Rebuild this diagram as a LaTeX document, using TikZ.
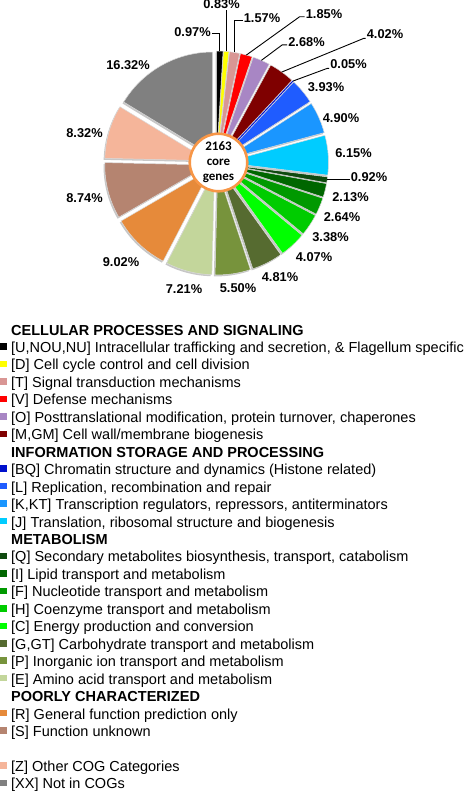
\documentclass[tikz,border=0pt]{standalone}
\usepackage{fontspec}
\setmainfont{Liberation Sans}
\newfontfamily\calib{Carlito}
\usetikzlibrary{calc}
\definecolor{cU}{HTML}{000000}
\definecolor{cD}{HTML}{FFFF00}
\definecolor{cT}{HTML}{D99694}
\definecolor{cV}{HTML}{FF0000}
\definecolor{cO}{HTML}{A886C4}
\definecolor{cM}{HTML}{7F0000}
\definecolor{cBQ}{HTML}{0010CC}
\definecolor{cL}{HTML}{1F5CFF}
\definecolor{cK}{HTML}{1A96FF}
\definecolor{cJ}{HTML}{00CCFF}
\definecolor{cQ}{HTML}{0F4A0F}
\definecolor{cI}{HTML}{006600}
\definecolor{cF}{HTML}{009900}
\definecolor{cH}{HTML}{00CC00}
\definecolor{cC}{HTML}{00FF00}
\definecolor{cG}{HTML}{566B30}
\definecolor{cP}{HTML}{77933C}
\definecolor{cE}{HTML}{C3D69B}
\definecolor{cR}{HTML}{E68A3A}
\definecolor{cS}{HTML}{B58470}
\definecolor{cZ}{HTML}{F5B59A}
\definecolor{cXX}{HTML}{808080}
\definecolor{cRing}{HTML}{F79646}
\tikzset{
  pct/.style={font=\fontsize{12.8bp}{14bp}\selectfont\bfseries, inner sep=1bp},
  leader/.style={draw=black, line width=0.9bp},
  legtxt/.style={anchor=base west, inner sep=0pt, font=\fontsize{14.5bp}{17bp}\selectfont},
  leghd/.style={legtxt, font=\fontsize{14.5bp}{17bp}\selectfont\bfseries},
  legsq/.style={minimum width=7bp, minimum height=6.5bp, inner sep=0pt, draw=none},
  slicebd/.style={draw=white!72!gray, line width=0.5bp}
}
\newcommand\legitem[4]{%
  \node[legsq, fill=#2] (s#4) at (3.5, {335+17.46*#1-6}) {};
  \node[legtxt] (t#4) at (11, {335+17.46*#1}) {#3};
}
\newcommand\leghead[3]{%
  \node[leghd] (#3) at (11, {335+17.46*#1}) {#2};
}
\begin{document}
\begin{tikzpicture}[x=1bp,y=-1bp]
\useasboundingbox (0,0) rectangle (473,792);
% pie
\begin{scope}[shift={(216.5,163)}, yscale=-1]
  \foreach \a/\b in {90/86.508,86.508/83.52,83.52/77.868,77.868/71.208,71.208/61.56,61.56/47.088,46.908/32.76,32.76/15.12,15.12/-7.02,-7.02/-10.332,-10.332/-18.0,-18.0/-27.504,-27.504/-39.672,-39.672/-54.324,-54.324/-71.64,-71.64/-91.44,-91.44/-117.396,-117.396/-149.868,-149.868/-181.332,-181.332/-211.284,-211.284/-270}{
    \pgfmathsetmacro\m{(\a+\b)/2}
    \fill[black!22] ($(\m:8)+(-1.2,-1.5)$) -- ++(\a:104) arc[start angle=\a, end angle=\b, radius=104] -- cycle;
  }
  \foreach \a/\b/\c in {90/86.508/cU,86.508/83.52/cD,83.52/77.868/cT,77.868/71.208/cV,71.208/61.56/cO,61.56/47.088/cM,46.908/32.76/cL,32.76/15.12/cK,15.12/-7.02/cJ,-7.02/-10.332/cQ,-10.332/-18.0/cI,-18.0/-27.504/cF,-27.504/-39.672/cH,-39.672/-54.324/cC,-54.324/-71.64/cG,-71.64/-91.44/cP,-91.44/-117.396/cE,-117.396/-149.868/cR,-149.868/-181.332/cS,-181.332/-211.284/cZ,-211.284/-270/cXX}{
    \pgfmathsetmacro\m{(\a+\b)/2}
    \fill[\c, slicebd] (\m:8) -- ++(\a:104) arc[start angle=\a, end angle=\b, radius=104] -- cycle;
  }
  \draw[cBQ, line width=1bp] (47:8) -- ++(47:104);
  \coordinate (eU) at (88.254:112);
  \coordinate (eD) at (85.014:112);
  \coordinate (eT) at (80.694:112);
  \coordinate (eV) at (74.538:112);
  \coordinate (eO) at (66.384:112);
  \coordinate (eM) at (54.324:112);
  \coordinate (eBQ) at (46.998:112);
  \coordinate (eQ) at (-8.676:112);
\end{scope}
\node[circle, draw=cRing, line width=2.6bp, fill=white, minimum size=57.5bp, inner sep=0pt,
  align=center, font=\calib\bfseries\fontsize{13bp}{15bp}\selectfont] (core) at (218.5,162.5) {2163\\core\\genes};
% percentage labels
\node[pct] (l097) at (192.5,32) {0.97\%};
\node[pct] (l083) at (221.5,4.5) {0.83\%};
\node[pct] (l157) at (262,18.3) {1.57\%};
\node[pct] (l185) at (324,14.3) {1.85\%};
\node[pct] (l268) at (306.5,42.5) {2.68\%};
\node[pct] (l402) at (385,34) {4.02\%};
\node[pct] (l005) at (348.5,64) {0.05\%};
\node[pct] (l393) at (326,87.5) {3.93\%};
\node[pct] (l490) at (341,118) {4.90\%};
\node[pct] (l615) at (353.5,153) {6.15\%};
\node[pct] (l092) at (369,177.5) {0.92\%};
\node[pct] (l213) at (350.5,197.5) {2.13\%};
\node[pct] (l264) at (342,217.5) {2.64\%};
\node[pct] (l338) at (330.5,237.5) {3.38\%};
\node[pct] (l407) at (314,257.5) {4.07\%};
\node[pct] (l481) at (280,277.5) {4.81\%};
\node[pct] (l550) at (238,288.5) {5.50\%};
\node[pct] (l721) at (184,289) {7.21\%};
\node[pct] (l902) at (121,262) {9.02\%};
\node[pct] (l874) at (84.5,198) {8.74\%};
\node[pct] (l832) at (84.5,133) {8.32\%};
\node[pct] (l1632) at (128,65) {16.32\%};
% leader lines
\draw[leader] ([yshift=-1.5bp]l097.east) -| (eU);
\draw[leader] (eD) -- (eD |- l083.south);
\draw[leader] ([yshift=2bp]l157.base west) -| (eT);
\draw[leader] ([yshift=2bp]l185.base west) -- ++(-5,0) -- (eV);
\draw[leader] ([yshift=2bp]l268.base west) -- ++(-5,0) -- (eO);
\draw[leader] (l402.base west) -- ++(-2,0) -- (eM);
\draw[leader] (l005.base west) -- ++(-2,0) -- (eBQ);
\draw[leader] (eQ) -- (eQ -| l092.west);
% legend
\leghead{0}{CELLULAR PROCESSES AND SIGNALING}{h1}
\legitem{1}{cU}{[U,NOU,NU] Intracellular trafficking and secretion, \& Flagellum specific}{U}
\legitem{2}{cD}{[D] Cell cycle control and cell division}{D}
\legitem{3}{cT}{[T] Signal transduction mechanisms}{T}
\legitem{4}{cV}{[V] Defense mechanisms}{V}
\legitem{5}{cO}{[O] Posttranslational modification, protein turnover, chaperones}{O}
\legitem{6}{cM}{[M,GM] Cell wall/membrane biogenesis}{M}
\leghead{7}{INFORMATION STORAGE AND PROCESSING}{h2}
\legitem{8}{cBQ}{[BQ] Chromatin structure and dynamics (Histone related)}{BQ}
\legitem{9}{cL}{[L] Replication, recombination and repair}{L}
\legitem{10}{cK}{[K,KT] Transcription regulators, repressors, antiterminators}{K}
\legitem{11}{cJ}{[J] Translation, ribosomal structure and biogenesis}{J}
\leghead{12}{METABOLISM}{h3}
\legitem{13}{cQ}{[Q] Secondary metabolites biosynthesis, transport, catabolism}{Q}
\legitem{14}{cI}{[I] Lipid transport and metabolism}{I}
\legitem{15}{cF}{[F] Nucleotide transport and metabolism}{F}
\legitem{16}{cH}{[H] Coenzyme transport and metabolism}{H}
\legitem{17}{cC}{[C] Energy production and conversion}{C}
\legitem{18}{cG}{[G,GT] Carbohydrate transport and metabolism}{G}
\legitem{19}{cP}{[P] Inorganic ion transport and metabolism}{P}
\legitem{20}{cE}{[E] Amino acid transport and metabolism}{E}
\leghead{21}{POORLY CHARACTERIZED}{h4}
\legitem{22}{cR}{[R] General function prediction only}{R}
\legitem{23}{cS}{[S] Function unknown}{S}
\legitem{25}{cZ}{[Z] Other COG Categories}{Z}
\legitem{26}{cXX}{[XX] Not in COGs}{XX}
\end{tikzpicture}
\end{document}
